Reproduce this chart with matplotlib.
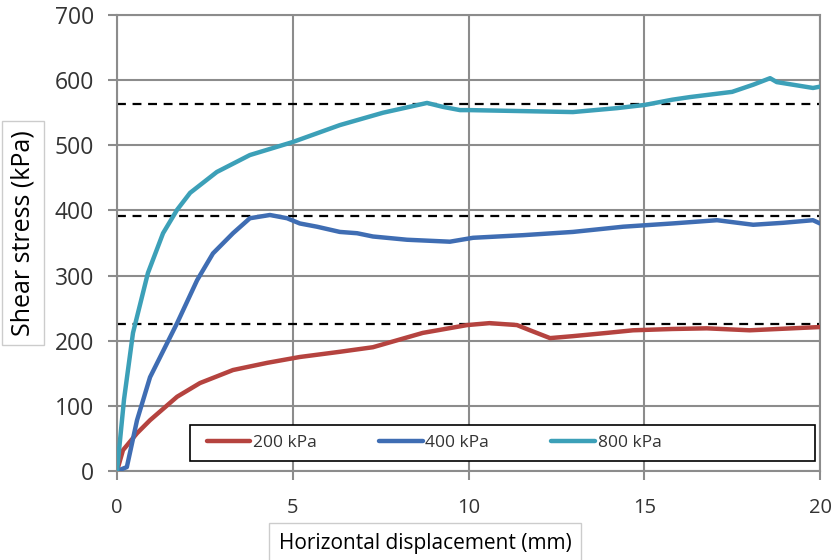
import matplotlib
matplotlib.use("Agg")
import matplotlib.pyplot as plt
from matplotlib.patches import Rectangle

plt.rcParams['font.family'] = ['Open Sans', 'DejaVu Sans']

# 200 kPa
x200 = [0, 0.17, 0.57, 0.94, 1.71, 2.36, 3.3, 4.27, 5.2, 6.34, 7.28, 8.7, 9.96, 10.6, 11.38,
        11.75, 12.32, 12.97, 13.94, 14.68, 15.8, 16.78, 18.0, 20.0]
y200 = [0, 32, 58, 78, 114, 135, 155, 166, 175, 183, 190, 212, 224, 227, 224,
        216, 204, 207, 212, 216, 218, 219, 216, 221]

# 400 kPa
x400 = [0, 0.28, 0.57, 0.94, 1.71, 2.28, 2.73, 3.3, 3.78, 4.35, 4.84, 5.2, 5.69, 6.34, 6.83,
        7.28, 8.25, 9.47, 10.13, 11.55, 12.97, 14.4, 15.8, 17.07, 18.1, 18.95, 19.8, 20.0]
y400 = [0, 6, 78, 144, 227, 293, 334, 365, 388, 393, 388, 380, 375, 367, 365,
        360, 355, 352, 358, 362, 367, 375, 380, 385, 378, 381, 385, 380]

# 800 kPa
x800 = [0, 0.2, 0.455, 0.88, 1.31, 1.71, 2.08, 2.84, 3.78, 5.0, 6.34, 7.57, 8.82, 9.27, 9.76,
        10.04, 12.97, 14.22, 15.02, 15.8, 16.3, 17.5, 18.1, 18.58, 18.77, 19.8, 20.0]
y800 = [0, 110, 212, 304, 365, 401, 427, 459, 485, 505, 531, 550, 565, 559, 554,
        554, 551, 557, 562, 570, 574, 582, 593, 603, 597, 588, 590]

peak_levels = [226, 391, 563]
labels = ['200 kPa', '400 kPa', '800 kPa']
colors = ['#B5433F', '#3F6DB3', '#3CA0B8']

xticks = [0, 5, 10, 15, 20]
yticks = [0, 100, 200, 300, 400, 500, 600, 700]

fig = plt.figure(figsize=(8.36, 5.6), dpi=100)
ax = fig.add_axes([117/836, 89/560, 703/836, 456/560])

for lvl in peak_levels:
    ax.axhline(lvl, color='black', linestyle=(0, (4, 3)), linewidth=1.6, zorder=2)

for xs, ys, lab, c in zip([x200, x400, x800], [y200, y400, y800], labels, colors):
    ax.plot(xs, ys, color=c, linewidth=3.2, label=lab, zorder=3, solid_capstyle='round')

ax.set_xlim(0, 20)
ax.set_ylim(0, 700)
ax.set_xticks(xticks)
ax.set_yticks(yticks)
ax.grid(True, color='#8C8C8C', linewidth=1.5, zorder=1)
ax.set_axisbelow(True)
for s in ax.spines.values():
    s.set_color('#8C8C8C')
    s.set_linewidth(1.5)
ax.tick_params(axis='both', colors='#8C8C8C', labelcolor='#333333',
               width=1.5, length=6.5, direction='out')
ax.tick_params(axis='x', labelsize=14.5, pad=13)
ax.tick_params(axis='y', labelsize=16.5, pad=10)

# legend frame
ax.add_patch(Rectangle((0.104, 0.022), 0.889, 0.079, transform=ax.transAxes,
                       facecolor='white', edgecolor='black', linewidth=1.2, zorder=4))
leg = ax.legend(loc='center left', bbox_to_anchor=(0.128, 0.0615), ncol=3, frameon=False,
                fontsize=12.5, handlelength=2.5, borderaxespad=0, handletextpad=0.15,
                borderpad=0, columnspacing=3.6)
leg.set_zorder(5)
for t in leg.get_texts():
    t.set_color('#333333')

fig.text(23/836, 1 - 233/560, 'Shear stress (kPa)', rotation=90, ha='center', va='center',
         fontsize=18, color='black', bbox=dict(boxstyle='square,pad=0.35', facecolor='white',
                                              edgecolor='#CCCCCC', linewidth=1))
fig.text(425/836, 1 - 543/560, 'Horizontal displacement (mm)', ha='center', va='center',
         fontsize=15, color='black', bbox=dict(boxstyle='square,pad=0.45', facecolor='white',
                                              edgecolor='#CCCCCC', linewidth=1))

fig.savefig('out.png', dpi=100)
